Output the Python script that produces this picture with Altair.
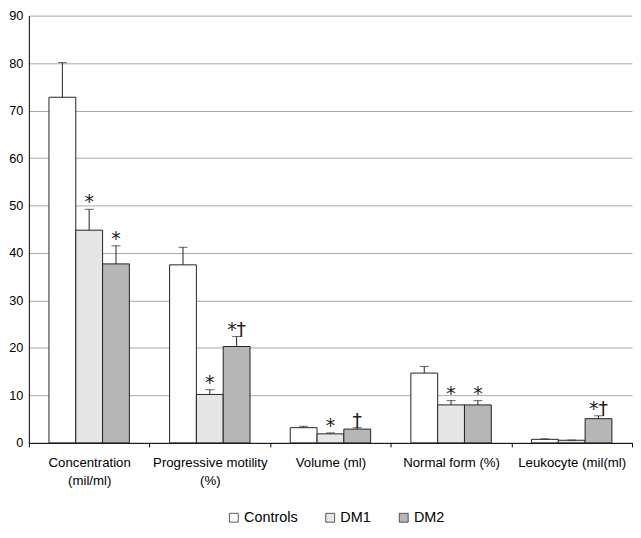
import altair as alt
import pandas as pd

categories = ["Concentration\n(mil/ml)", "Progressive motility\n(%)", "Volume (ml)",
              "Normal form (%)", "Leukocyte (mil(ml)"]
groups = ["Controls", "DM1", "DM2"]

controls = [72.8, 37.5, 3.2, 14.7, 0.75]
controls_err = [80.1, 41.2, 3.5, 16.1, 0.85]
dm1 = [44.8, 10.2, 1.9, 8.0, 0.55]
dm1_err = [49.2, 11.2, 2.1, 8.9, 0.6]
dm2 = [37.7, 20.3, 2.9, 8.0, 5.1]
dm2_err = [41.5, 22.4, 3.2, 8.9, 5.7]
controls_sig = ["", "", "", "", ""]
dm1_sig = ["*", "*", "*", "*", ""]
dm2_sig = ["*", "*†", "†", "*", "*†"]

rows = []
for g, vals, errs, sigs in [("Controls", controls, controls_err, controls_sig),
                            ("DM1", dm1, dm1_err, dm1_sig),
                            ("DM2", dm2, dm2_err, dm2_sig)]:
    for c, v, e, s in zip(categories, vals, errs, sigs):
        rows.append({"cat": c, "group": g, "value": v, "err": e, "sig": s})
df = pd.DataFrame(rows)

FONT = "Liberation Sans"

x = alt.X("cat:N", sort=categories, title=None,
          scale=alt.Scale(paddingInner=0, paddingOuter=0),
          axis=alt.Axis(labelExpr="split(datum.label, '\\n')", labelAngle=0,
                        tickBand="extent", tickSize=4, tickColor="black",
                        domainColor="black", labelFontSize=13.3, labelColor="black",
                        labelPadding=9, labelLineHeight=18, labelFont=FONT))
xoff = alt.XOffset("group:N", sort=groups,
                   scale=alt.Scale(paddingInner=0, paddingOuter=0.75))
y = alt.Y("value:Q", title=None,
          scale=alt.Scale(domain=[0, 90], nice=False),
          axis=alt.Axis(values=list(range(0, 91, 10)), tickSize=0, labelPadding=6,
                        labelFontSize=12.8, labelColor="black", labelFont=FONT,
                        domainColor="black", gridColor="#a8a8a8", gridWidth=1))

color = alt.Color("group:N", sort=groups, title=None,
                  scale=alt.Scale(domain=groups, range=["#ffffff", "#e6e6e6", "#b6b6b6"]),
                  legend=alt.Legend(orient="none", legendX=199, legendY=498,
                                    direction="horizontal", symbolType="square",
                                    symbolSize=80, symbolStrokeColor="#333333",
                                    symbolStrokeWidth=0.8, labelFontSize=14.5,
                                    labelFont=FONT, labelColor="black",
                                    columnPadding=25, labelOffset=3))

base = alt.Chart(df)
bars = base.mark_bar(stroke="#222222", strokeWidth=1).encode(x=x, xOffset=xoff, y=y, color=color)
rules = base.mark_rule(color="#222222", strokeWidth=1).encode(
    x=x, xOffset=xoff, y="value:Q", y2="err:Q")
caps = base.mark_tick(color="#222222", size=9, thickness=1).encode(
    x=x, xOffset=xoff, y="err:Q")
texts = base.mark_text(fontSize=19, font="DejaVu Sans", baseline="alphabetic", dy=-1,
                       color="#222222").encode(
    x=x, xOffset=xoff, y="err:Q", text="sig:N")

chart = alt.layer(bars, rules, caps, texts).properties(
    width=607, height=430, padding={"left": 0, "top": 0, "right": 0, "bottom": 0}
).configure_view(stroke=None)

chart.save("out.html", embed_options={"renderer": "svg", "actions": False})
